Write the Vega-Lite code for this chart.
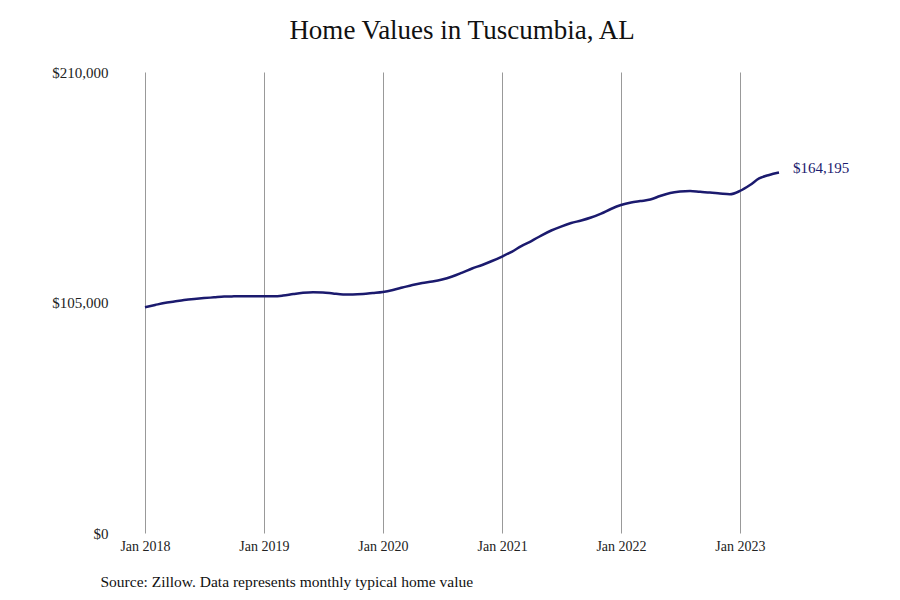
{
  "$schema": "https://vega.github.io/schema/vega-lite/v6.json",
  "autosize": "none",
  "width": 634,
  "height": 461,
  "padding": {"left": 145, "top": 72, "right": 121, "bottom": 67},
  "background": "#ffffff",
  "title": {
    "text": "Home Values in Tuscumbia, AL",
    "anchor": "middle",
    "font": "Liberation Serif",
    "fontSize": 27,
    "fontWeight": "normal",
    "color": "#111111",
    "offset": 20
  },
  "data": {
    "values": [
      {"date": "2018-01-01", "value": 102800},
      {"date": "2018-02-01", "value": 103850},
      {"date": "2018-03-01", "value": 104770},
      {"date": "2018-04-01", "value": 105450},
      {"date": "2018-05-01", "value": 106100},
      {"date": "2018-06-01", "value": 106600},
      {"date": "2018-07-01", "value": 107000},
      {"date": "2018-08-01", "value": 107350},
      {"date": "2018-09-01", "value": 107700},
      {"date": "2018-10-01", "value": 107800},
      {"date": "2018-11-01", "value": 107850},
      {"date": "2018-12-01", "value": 107850},
      {"date": "2019-01-01", "value": 107850},
      {"date": "2019-02-01", "value": 107800},
      {"date": "2019-03-01", "value": 108150},
      {"date": "2019-04-01", "value": 108850},
      {"date": "2019-05-01", "value": 109400},
      {"date": "2019-06-01", "value": 109650},
      {"date": "2019-07-01", "value": 109550},
      {"date": "2019-08-01", "value": 109100},
      {"date": "2019-09-01", "value": 108700},
      {"date": "2019-10-01", "value": 108650},
      {"date": "2019-11-01", "value": 108850},
      {"date": "2019-12-01", "value": 109300},
      {"date": "2020-01-01", "value": 109800},
      {"date": "2020-02-01", "value": 110700},
      {"date": "2020-03-01", "value": 111800},
      {"date": "2020-04-01", "value": 113000},
      {"date": "2020-05-01", "value": 113900},
      {"date": "2020-06-01", "value": 114550},
      {"date": "2020-07-01", "value": 115450},
      {"date": "2020-08-01", "value": 116850},
      {"date": "2020-09-01", "value": 118650},
      {"date": "2020-10-01", "value": 120500},
      {"date": "2020-11-01", "value": 122100},
      {"date": "2020-12-01", "value": 123900},
      {"date": "2021-01-01", "value": 125950},
      {"date": "2021-02-01", "value": 128200},
      {"date": "2021-03-01", "value": 130700},
      {"date": "2021-04-01", "value": 133000},
      {"date": "2021-05-01", "value": 135500},
      {"date": "2021-06-01", "value": 137800},
      {"date": "2021-07-01", "value": 139600},
      {"date": "2021-08-01", "value": 141200},
      {"date": "2021-09-01", "value": 142350},
      {"date": "2021-10-01", "value": 143700},
      {"date": "2021-11-01", "value": 145500},
      {"date": "2021-12-01", "value": 147600},
      {"date": "2022-01-01", "value": 149400},
      {"date": "2022-02-01", "value": 150550},
      {"date": "2022-03-01", "value": 151200},
      {"date": "2022-04-01", "value": 151900},
      {"date": "2022-05-01", "value": 153500},
      {"date": "2022-06-01", "value": 154900},
      {"date": "2022-07-01", "value": 155550},
      {"date": "2022-08-01", "value": 155800},
      {"date": "2022-09-01", "value": 155400},
      {"date": "2022-10-01", "value": 155100},
      {"date": "2022-11-01", "value": 154650},
      {"date": "2022-12-01", "value": 154300},
      {"date": "2023-01-01", "value": 155800},
      {"date": "2023-02-01", "value": 158500},
      {"date": "2023-03-01", "value": 161500},
      {"date": "2023-04-01", "value": 163100},
      {"date": "2023-05-01", "value": 164195}
    ]
  },
  "encoding": {
    "x": {
      "field": "date",
      "type": "temporal",
      "scale": {
        "type": "utc",
        "domain": [
          {"year": 2018, "month": 1, "date": 1, "utc": true},
          {"year": 2023, "month": 5, "date": 1, "utc": true}
        ]
      },
      "axis": {
        "format": "%b %Y",
        "tickCount": {"interval": "year", "step": 1},
        "grid": true,
        "gridColor": "#999999",
        "gridWidth": 1,
        "domain": false,
        "ticks": false,
        "labelFlush": false,
        "labelPadding": 6,
        "labelFont": "Liberation Serif",
        "labelFontSize": 14,
        "labelColor": "#222222",
        "title": "Source: Zillow. Data represents monthly typical home value",
        "titleFont": "Liberation Serif",
        "titleFontSize": 15.5,
        "titleFontWeight": "normal",
        "titleColor": "#111111",
        "titleAnchor": "start",
        "titleAlign": "left",
        "titleX": -45,
        "titleY": 41
      }
    },
    "y": {
      "field": "value",
      "type": "quantitative",
      "scale": {"domain": [0, 210000], "nice": false},
      "axis": {
        "values": [0, 105000, 210000],
        "format": "$,.0f",
        "grid": false,
        "domain": false,
        "ticks": false,
        "labelPadding": 37,
        "labelFont": "Liberation Serif",
        "labelFontSize": 15,
        "labelColor": "#222222",
        "title": null
      }
    }
  },
  "layer": [
    {
      "mark": {"type": "line", "color": "#1b1a6e", "strokeWidth": 2.5, "interpolate": "monotone"}
    },
    {
      "transform": [{"filter": "time(datum.date) == utc(2023, 4, 1)"}],
      "mark": {
        "type": "text",
        "align": "left",
        "baseline": "middle",
        "dx": 14,
        "dy": -5,
        "font": "Liberation Serif",
        "fontSize": 15,
        "color": "#1b1a6e"
      },
      "encoding": {
        "text": {"field": "value", "type": "quantitative", "format": "$,.0f"}
      }
    }
  ],
  "config": {
    "view": {"stroke": null}
  }
}
